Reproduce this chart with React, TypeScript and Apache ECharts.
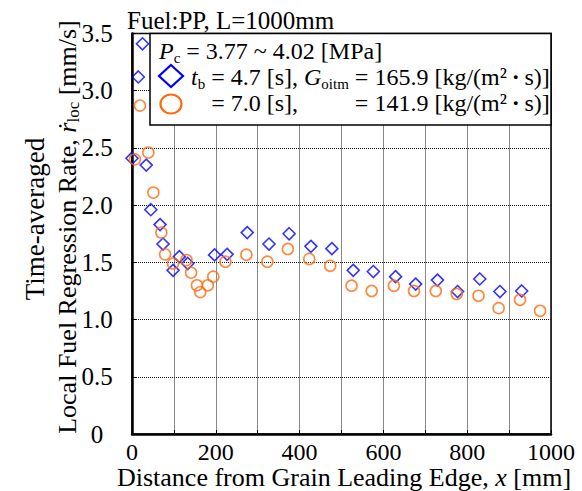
import React, { useEffect, useRef } from 'react';
import * as echarts from 'echarts';

// ---- data ----
const blueX = [0, 15, 25, 34, 45, 67, 74, 98, 113, 133, 197, 227, 275, 327, 375, 427, 477, 528, 576, 629, 677, 729, 777, 830, 878, 930];
const blueY = [2.41, 3.12, 3.41, 2.35, 1.96, 1.83, 1.66, 1.43, 1.55, 1.49, 1.565, 1.57, 1.76, 1.66, 1.75, 1.64, 1.62, 1.43, 1.42, 1.375, 1.31, 1.345, 1.245, 1.355, 1.245, 1.25];
const orangeX = [7, 19, 39, 51, 70, 79, 98, 130, 141, 155, 163, 181, 194, 223, 273, 323, 372, 423, 473, 524, 572, 625, 673, 725, 775, 827, 875, 926, 974];
const orangeY = [2.40, 2.87, 2.46, 2.11, 1.76, 1.57, 1.49, 1.52, 1.41, 1.30, 1.24, 1.30, 1.375, 1.506, 1.567, 1.506, 1.617, 1.53, 1.47, 1.296, 1.25, 1.296, 1.25, 1.25, 1.223, 1.208, 1.10, 1.173, 1.077];
const xLabelValues = [0, 200, 400, 600, 800, 1000];

const FONT = "'Liberation Serif', 'Times New Roman', serif";
const BLUE = '#0000ff';
const ORANGE = '#ff6a10';
const HIDDEN = 'rgba(0,0,0,0)';

const base = { fontFamily: FONT, fontSize: 24, fill: '#000', lineHeight: 28 };
const richLegend: any = {
  n: { ...base },
  i: { ...base, fontStyle: 'italic' },
  s: { fontFamily: FONT, fontSize: 15, fill: '#000', lineHeight: 12, verticalAlign: 'bottom' },
  d: { fontFamily: FONT, fontSize: 24, fill: '#000', lineHeight: 28, fontWeight: 'bold' },
  h: { ...base, fontStyle: 'italic', fill: HIDDEN },
  hs: { fontFamily: FONT, fontSize: 15, fill: HIDDEN, lineHeight: 12, verticalAlign: 'bottom' },
};

export default function App() {
  const ref = useRef<HTMLDivElement>(null);
  useEffect(() => {
    const chart = echarts.init(ref.current!, null, { renderer: 'svg' });
    const blue = blueX.map((x, i) => [x, blueY[i]]);
    const orange = orangeX.map((x, i) => [x, orangeY[i]]);
    chart.setOption({
      animation: false,
      grid: {
        left: 132, right: 31, top: 33.5, bottom: 57,
        show: true, borderColor: '#000', borderWidth: 1.5, backgroundColor: HIDDEN,
      },
      xAxis: {
        type: 'value', min: 0, max: 1000, interval: 100,
        axisLine: { show: true, onZero: false, lineStyle: { color: '#000', width: 2.5 } },
        axisTick: { show: true, inside: true, length: 4, lineStyle: { color: '#000' } },
        splitLine: { show: true, lineStyle: { color: '#111', type: [1, 1], width: 1 } },
        axisLabel: {
          formatter: (v: number) => (xLabelValues.indexOf(v) >= 0 ? String(v) : ''),
          fontFamily: FONT, fontSize: 24, lineHeight: 22, color: '#000', margin: 7,
        },
      },
      yAxis: {
        type: 'value', min: 0, max: 3.5, interval: 0.5,
        axisLine: { show: true, onZero: false, lineStyle: { color: '#000', width: 2.5 } },
        axisTick: { show: true, inside: true, length: 4, lineStyle: { color: '#000' } },
        splitLine: { show: true, lineStyle: { color: '#111', type: [1, 1], width: 1 } },
        axisLabel: {
          formatter: (v: number) => (v === 0 ? '0' : v.toFixed(1)),
          fontFamily: FONT, fontSize: 25, color: '#000', align: 'center', margin: 35,
        },
      },
      series: [
        {
          type: 'scatter', data: blue, symbol: 'diamond', symbolSize: 12, z: 3,
          itemStyle: { color: HIDDEN, borderColor: BLUE, borderWidth: 1.6 },
        },
        {
          type: 'scatter', data: orange, symbol: 'circle', symbolSize: 11, z: 3,
          itemStyle: { color: HIDDEN, borderColor: ORANGE, borderWidth: 1.6 },
        },
      ],
      graphic: [
        {
          type: 'text', x: 127, y: 20, z: 10,
          style: { text: 'Fuel:PP, L=1000mm', font: `25px ${FONT}`, fill: '#000', verticalAlign: 'middle' },
        },
        {
          type: 'text', x: 344, y: 477.5, z: 10,
          style: {
            text: '{n|Distance from Grain Leading Edge, }{i|x}{n| [mm]}',
            align: 'center', verticalAlign: 'middle',
            rich: {
              n: { fontFamily: FONT, fontSize: 26, fill: '#000', lineHeight: 22 },
              i: { fontFamily: FONT, fontSize: 26, fill: '#000', lineHeight: 22, fontStyle: 'italic' },
            },
          },
        },
        {
          type: 'text', x: 35, y: 219, rotation: Math.PI / 2, z: 10,
          style: { text: 'Time-averaged', font: `27px ${FONT}`, fill: '#000', align: 'center', verticalAlign: 'middle' },
        },
        {
          type: 'text', x: 67, y: 227, rotation: Math.PI / 2, z: 10,
          style: {
            text: '{n|Local Fuel Regression Rate, }{i|ṙ}{s|loc}{n| [mm/s]}',
            align: 'center', verticalAlign: 'middle',
            rich: {
              n: { fontFamily: FONT, fontSize: 26, fill: '#000', lineHeight: 29 },
              i: { fontFamily: FONT, fontSize: 26, fill: '#000', lineHeight: 29, fontStyle: 'italic' },
              s: { fontFamily: FONT, fontSize: 17, fill: '#000', lineHeight: 12, verticalAlign: 'bottom' },
            },
          },
        },
        {
          type: 'rect', z: 20,
          shape: { x: 150, y: 33.5, width: 401, height: 91.5 },
          style: { fill: '#fff', stroke: '#000', lineWidth: 1.5 },
        },
        {
          type: 'text', x: 159, y: 51, z: 21,
          style: {
            text: '{i|P}{s|c}{n| = 3.77 ~ 4.02 [MPa]}',
            verticalAlign: 'middle', rich: richLegend,
          },
        },
        {
          type: 'polygon', z: 21,
          shape: { points: [[171, 65], [183, 76], [171, 87], [159, 76]] },
          style: { fill: 'none', stroke: BLUE, lineWidth: 2.2 },
        },
        {
          type: 'text', x: 191, y: 77, z: 21,
          style: {
            text: '{i|t}{s|b}{n| = 4.7 [s], }{i|G}{s|oitm}{n| = 165.9 [kg/(m²}{d|\u2009·\u2009}{n|s)]}',
            verticalAlign: 'middle', rich: richLegend,
          },
        },
        {
          type: 'ellipse', z: 21,
          shape: { cx: 171, cy: 104, rx: 10.5, ry: 9.5 },
          style: { fill: 'none', stroke: ORANGE, lineWidth: 2.2 },
        },
        {
          type: 'text', x: 191, y: 103, z: 21,
          style: {
            text: '{h|t}{hs|b}{n| = 7.0 [s], }{h|G}{hs|oitm}{n| = 141.9 [kg/(m²}{d|\u2009·\u2009}{n|s)]}',
            verticalAlign: 'middle', rich: richLegend,
          },
        },
      ],
    });
    return () => chart.dispose();
  }, []);
  return <div ref={ref} style={{ position: 'absolute', left: 0, top: 0, width: 582, height: 491 }} />;
}
